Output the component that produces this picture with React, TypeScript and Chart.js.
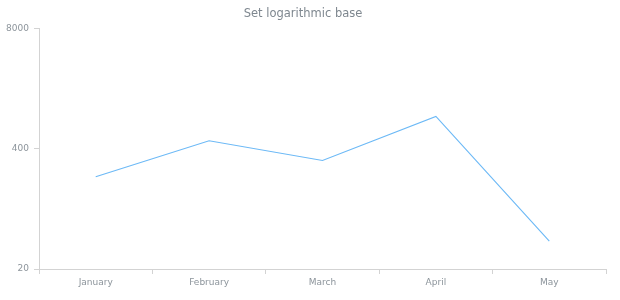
import React, { useEffect, useRef } from "react";
import { Chart, registerables } from "chart.js";

Chart.register(...registerables);

const categories = ["January", "February", "March", "April", "May"];
const seriesValues = [200, 490, 300, 900, 40];
const yTickValues = [20, 400, 8000];
const titleText = "Set logarithmic base";

export default function App() {
  const ref = useRef<HTMLCanvasElement | null>(null);

  useEffect(() => {
    document.body.style.margin = "0";
    const canvas = ref.current;
    if (!canvas) return;
    const font = "'DejaVu Sans', sans-serif";
    const chart = new Chart(canvas, {
      type: "line",
      data: {
        labels: categories,
        datasets: [
          {
            data: seriesValues,
            borderColor: "#6cb9f6",
            borderWidth: 1.1,
            pointRadius: 0,
            tension: 0,
            fill: false,
          },
        ],
      },
      options: {
        animation: false,
        responsive: false,
        layout: { padding: { left: 0, right: 14, top: 0, bottom: 0 } },
        plugins: {
          legend: { display: false },
          tooltip: { enabled: false },
          title: {
            display: true,
            text: titleText,
            color: "#7e878f",
            font: { family: font, size: 11.5, weight: "normal" },
            padding: { top: 7, bottom: 8 },
          },
        },
        scales: {
          x: {
            type: "category",
            offset: true,
            grid: {
              offset: true,
              drawOnChartArea: false,
              tickLength: 5,
              color: "#d3d3d3",
            },
            border: { color: "#d3d3d3" },
            ticks: {
              color: "#8c949b",
              font: { family: font, size: 9 },
              padding: 3,
              maxRotation: 0,
            },
            afterFit: (scale: any) => {
              scale.height = 31;
            },
          },
          y: {
            type: "logarithmic",
            min: 20,
            max: 8000,
            grid: {
              drawOnChartArea: false,
              tickLength: 5,
              color: "#d3d3d3",
            },
            border: { color: "#d3d3d3" },
            ticks: {
              color: "#8c949b",
              font: { family: font, size: 9 },
              padding: 5,
              callback: (v: any) => String(v),
            },
            afterBuildTicks: (scale: any) => {
              scale.ticks = yTickValues.map((v) => ({ value: v }));
            },
            afterFit: (scale: any) => {
              scale.width = 39;
            },
          },
        },
      },
    });
    return () => chart.destroy();
  }, []);

  return (
    <div style={{ width: 620, height: 300 }}>
      <canvas ref={ref} width={620} height={300} />
    </div>
  );
}
